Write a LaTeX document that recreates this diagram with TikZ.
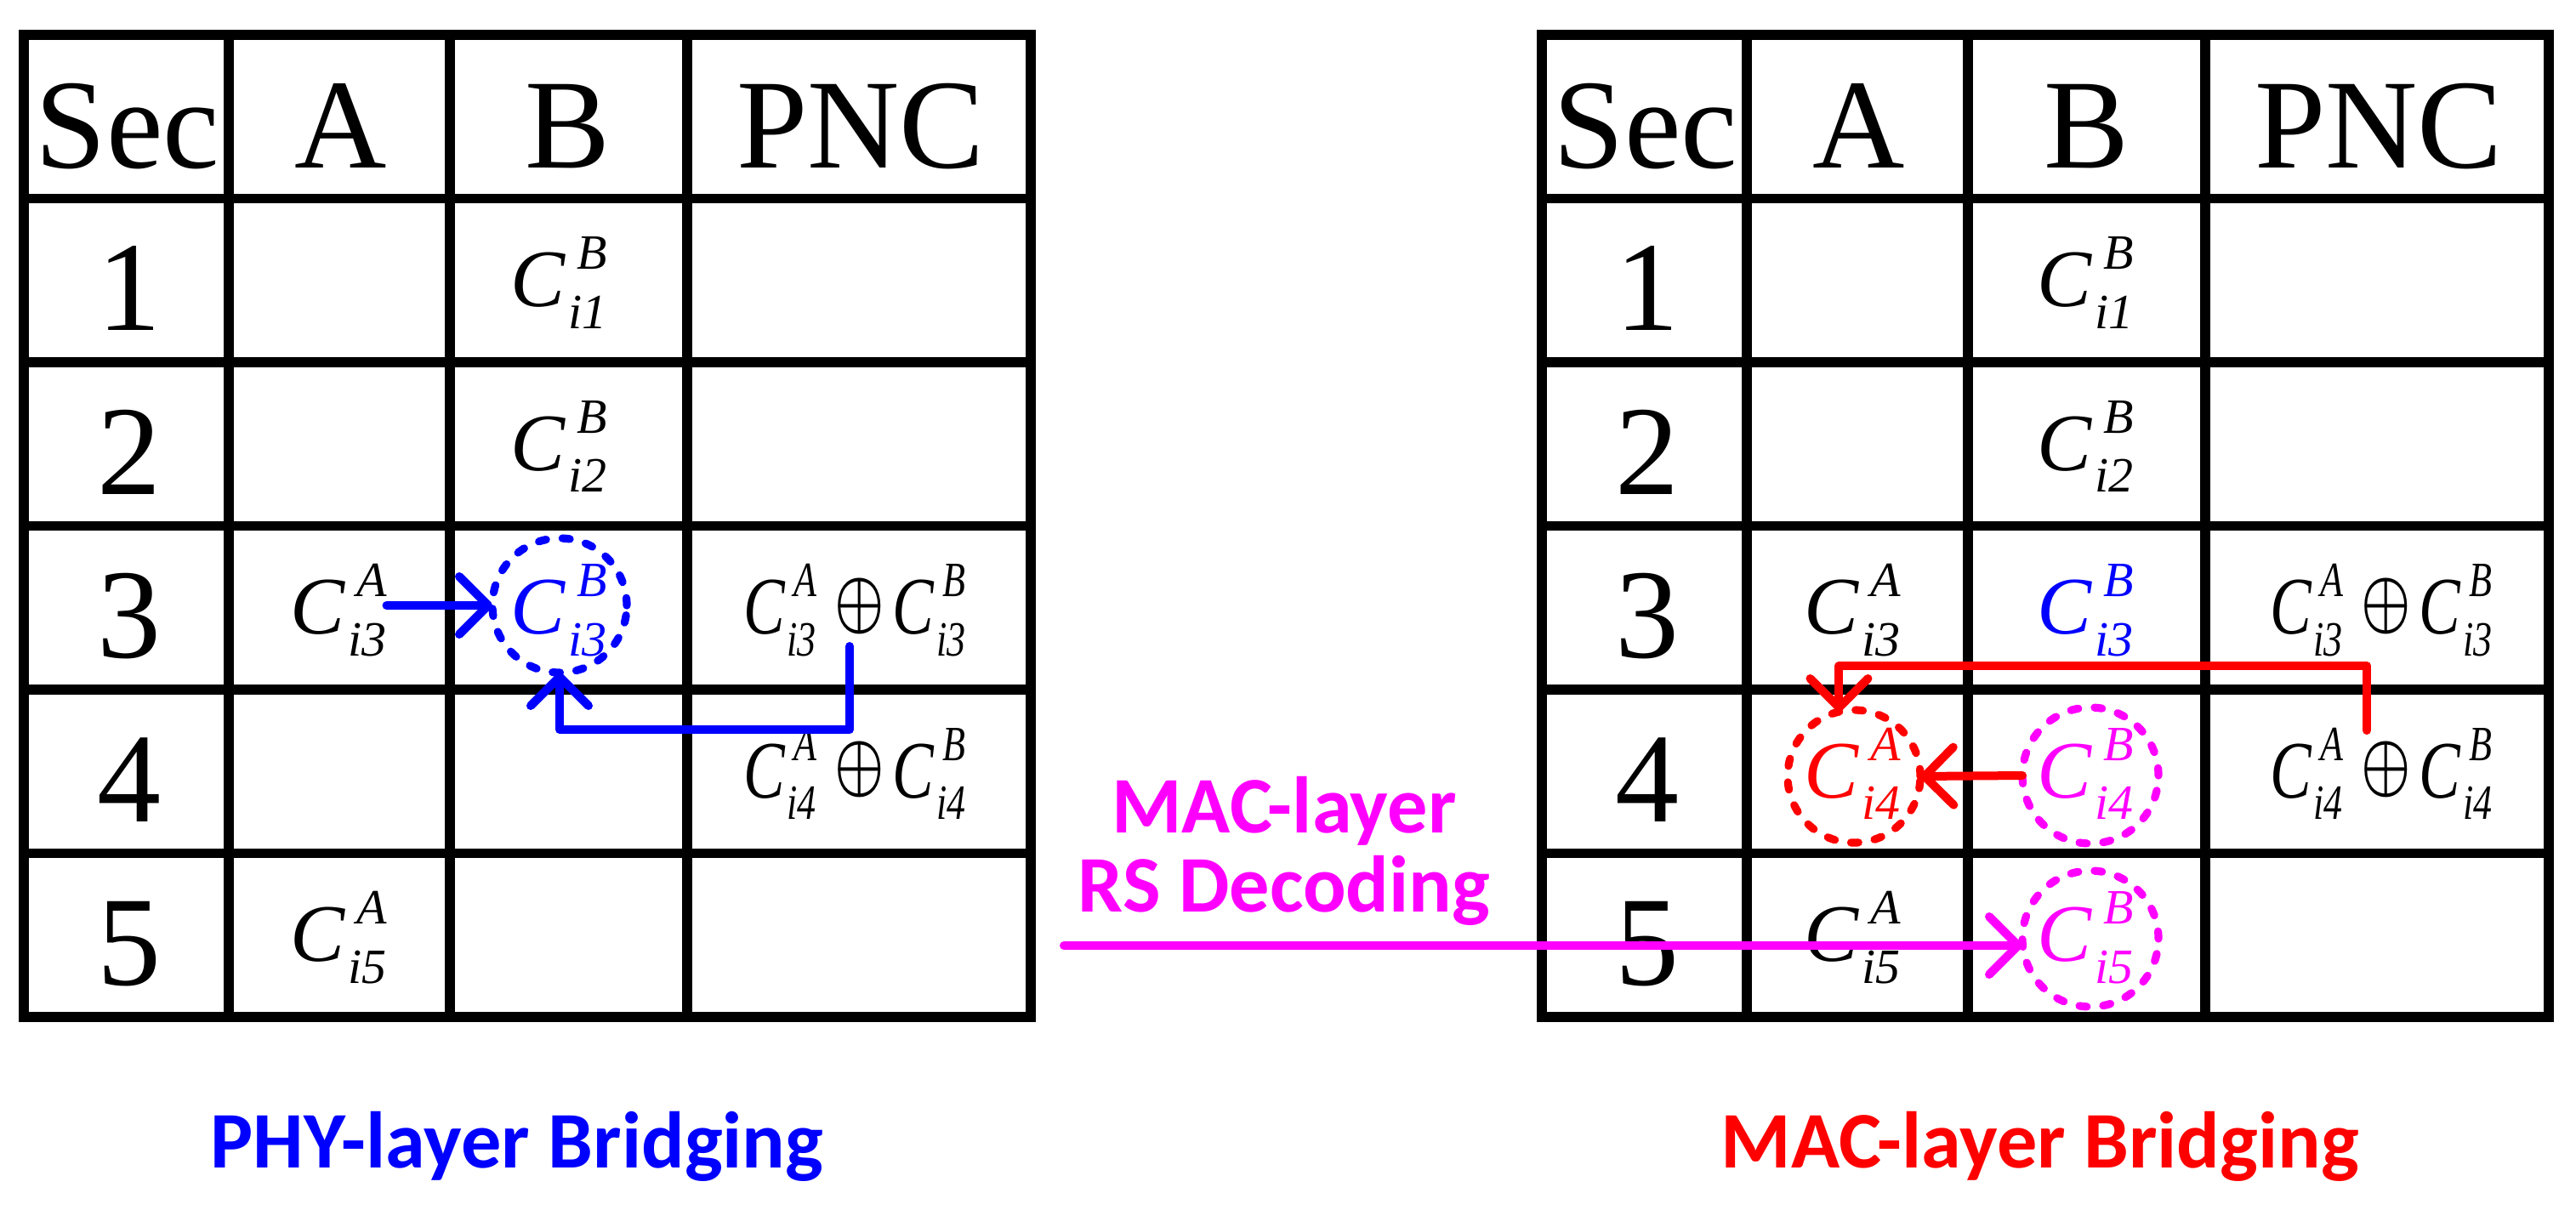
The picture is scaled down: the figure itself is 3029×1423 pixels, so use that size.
\documentclass[tikz,border=0pt]{standalone}
\usepackage{fix-cm}
\usepackage{graphicx}
\usepackage{fontspec}
\setmainfont{Liberation Serif}
\newfontfamily\labfont{Carlito}
\usetikzlibrary{arrows.meta}
\definecolor{cblue}{RGB}{0,0,255}
\definecolor{cred}{RGB}{255,0,0}
\definecolor{cmag}{RGB}{255,0,255}
\newcommand\Cx[2]{\begingroup\fontsize{24}{24}\selectfont\itshape C%
\fontsize{14.5}{14.5}\selectfont
\setbox0=\hbox{#1}\setbox2=\hbox{#2}%
\dimen0=\wd0 \advance\dimen0 by 3.4pt
\dimen2=\wd2 \advance\dimen2 by 0.9pt
\ifdim\dimen2>\dimen0 \dimen0=\dimen2 \fi
\rlap{\kern3.4pt\raise10.9pt\box0}%
\rlap{\kern0.9pt\lower6.4pt\box2}%
\kern\dimen0\endgroup}
\newcommand\Op{\kern6.9pt\setbox4=\hbox{\resizebox*{!}{16.5pt}{\boldmath$\oplus$}}%
\dimen4=\ht4 \advance\dimen4 by -\dp4 \divide\dimen4 by 2
\dimen6=8.25pt \advance\dimen6 by -\dimen4
\raise\dimen6\box4\kern3.4pt}
\newcommand\Px[1]{\scalebox{0.76}[1]{\Cx{A}{#1}\Op\Cx{B}{#1}}}
\begin{document}
\begin{tikzpicture}[x=0.25pt,y=-0.25pt,
 grid/.style={line width=2.9pt},
 txt/.style={inner sep=0pt,outer sep=0pt,anchor=base},
 hdr/.style={txt,font=\fontsize{37.5}{37.5}\selectfont},
 cell/.style={txt},
 lab/.style={txt,font=\labfont\bfseries\fontsize{23.6}{23.6}\selectfont},
 dcirc/.style={circle,draw=#1,line width=2.3pt,dash pattern=on 2.2pt off 4.8pt,line cap=round,inner sep=0pt,outer sep=0pt},
 arr/.style={line width=2.5pt,line cap=round,line join=round,-{Straight Barb[length=8.5pt,width=17pt,round]}}
]
\useasboundingbox (0,0) rectangle (3029,1423);
% tables
\foreach \o/\n in {0/L,1785/R} {
 \draw[grid] (\o+28,41) rectangle (\o+1212,1196);
 \foreach \x in {269,529,808} \draw[grid] (\o+\x,41) -- (\o+\x,1196);
 \foreach \y in {233.5,426,618.5,811,1003.5} \draw[grid] (\o+28,\y) -- (\o+1212,\y);
 \node[hdr] (\n-sec) at (\o+150,198) {Sec};
 \node[hdr] (\n-a) at (\o+401,198) {A};
 \node[hdr] (\n-b) at (\o+668,198) {B};
 \node[hdr] (\n-pnc) at (\o+1012,198) {PNC};
 \foreach \r/\t in {1/233.5,2/426,3/618.5,4/811,5/1003.5}
   \node[hdr] (\n-r\r) at (\o+152,\t+155) {\r};
}
% left table cells
\node[cell] (LB1) at (657,360.5) {\Cx{B}{i1}};
\node[cell] (LB2) at (657,553) {\Cx{B}{i2}};
\node[cell] (LA3) at (398,745.5) {\Cx{A}{i3}};
\node[cell,text=cblue] (LB3) at (657,745.5) {\Cx{B}{i3}};
\node[cell] (LP3) at (1005,745.5) {\Px{i3}};
\node[cell] (LP4) at (1005,938) {\Px{i4}};
\node[cell] (LA5) at (398,1130.5) {\Cx{A}{i5}};
% right table cells
\node[cell] (RB1) at (2452,360.5) {\Cx{B}{i1}};
\node[cell] (RB2) at (2452,553) {\Cx{B}{i2}};
\node[cell] (RA3) at (2178,745.5) {\Cx{A}{i3}};
\node[cell,text=cblue] (RB3) at (2452,745.5) {\Cx{B}{i3}};
\node[cell] (RP3) at (2800,745.5) {\Px{i3}};
\node[cell,text=cred] (RA4) at (2178,938) {\Cx{A}{i4}};
\node[cell,text=cmag] (RB4) at (2452,938) {\Cx{B}{i4}};
\node[cell] (RP4) at (2800,938) {\Px{i4}};
\node[cell] (RA5) at (2178,1130.5) {\Cx{A}{i5}};
\node[cell,text=cmag] (RB5) at (2452,1130.5) {\Cx{B}{i5}};
% dashed circles
\node[dcirc=cblue,minimum size=39.5pt] (LB3c) at (658,712) {};
\node[dcirc=cred,minimum size=39pt] (RA4c) at (2180,913) {};
\node[dcirc=cmag,minimum size=40pt] (RB4c) at (2458,912) {};
\node[dcirc=cmag,minimum size=40pt] (RB5c) at (2458,1104) {};
% labels
\node[lab,text=cblue] (phy) at (608,1373) {PHY-layer Bridging};
\node[lab,text=cred] (mac) at (2399,1373) {MAC-layer Bridging};
\node[lab,text=cmag] (rsa) at (1510,979) {MAC-layer};
\node[lab,text=cmag] (rsb) at (1510,1072) {RS Decoding};
% connectors
\coordinate (bs) at (999,760);
\coordinate (bk) at (999,858);
\draw[arr,cblue] (LA3.east |- LB3c.center) -- (LB3c.west);
\draw[arr,cblue] (bs) -- (bk) -| (LB3c.south);
\coordinate (rst) at (2783,859);
\coordinate (rk) at (2783,783);
\draw[arr,cred] (rst) -- (rk) -| (RA4c.103);
\draw[arr,cred] (RB4c.west) -- (RA4c.east);
\coordinate (ms) at (1251,1112);
\draw[arr,cmag] (ms) -- (ms -| RB5c.west);
\end{tikzpicture}
\end{document}
